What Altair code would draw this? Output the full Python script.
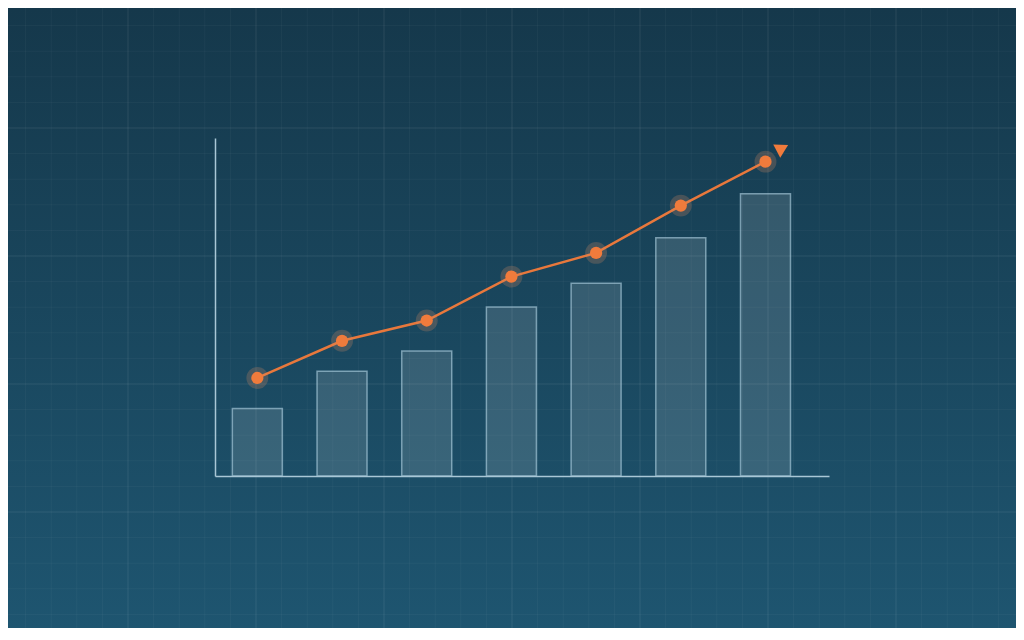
import altair as alt
import pandas as pd
import numpy as np

# ---- data ----
steps = [1, 2, 3, 4, 5, 6, 7]
bar_values = [20, 31, 37, 50, 57, 70.5, 83.5]
line_values = [29, 40, 46, 59, 66, 80, 93]
arrow_step = [7.2]
arrow_value = [97]

# ---- layout ----
W, H = 614, 338
PAD = {"left": 207, "top": 130, "right": 187, "bottom": 152}
ORIGIN_X, ORIGIN_Y = 215, 138   # screen position of the plot origin (top-left)
GRID = 25.6                      # decorative background grid spacing (screen px)

df = pd.DataFrame({"step": steps, "bar": bar_values, "line": line_values})
arrow_df = pd.DataFrame({"step": arrow_step, "value": arrow_value})

xscale = alt.Scale(domain=[0.5, 7.75], nice=False, zero=False, padding=0)
yscale = alt.Scale(domain=[0, 100], nice=False, padding=0)

# decorative background grid (screen-aligned)
kx = np.arange(0, 41)
ky = np.arange(0, 26)
vgrid = pd.DataFrame({"px": kx * GRID - ORIGIN_X, "major": kx % 5 == 0})
hgrid = pd.DataFrame({"py": ky * GRID - ORIGIN_Y, "major": ky % 5 == 0})

bg = alt.Chart(pd.DataFrame({"a": [0]})).mark_rect(
    fill=alt.Gradient(
        gradient="linear",
        stops=[alt.GradientStop(color="#15384b", offset=0),
               alt.GradientStop(color="#1e5570", offset=1)],
        x1=0, x2=0, y1=0, y2=1,
    ),
    strokeWidth=0,
).encode(
    x=alt.value(-PAD["left"]), x2=alt.value(W + PAD["right"]),
    y=alt.value(-PAD["top"]), y2=alt.value(H + PAD["bottom"]),
)

vlines = alt.Chart(vgrid).mark_rule(color="#ffffff", strokeWidth=1).encode(
    x=alt.X("px:Q", scale=None, axis=None),
    y=alt.value(-PAD["top"]), y2=alt.value(H + PAD["bottom"]),
    strokeOpacity=alt.condition("datum.major", alt.value(0.09), alt.value(0.035)),
)
hlines = alt.Chart(hgrid).mark_rule(color="#ffffff", strokeWidth=1).encode(
    y=alt.Y("py:Q", scale=None, axis=None),
    x=alt.value(-PAD["left"]), x2=alt.value(W + PAD["right"]),
    strokeOpacity=alt.condition("datum.major", alt.value(0.09), alt.value(0.035)),
)

axis_x = alt.Axis(domain=True, ticks=False, labels=False, grid=False, title=None,
                  domainColor="#a9c7d6", domainWidth=1.5, zindex=1)
axis_y = alt.Axis(domain=True, ticks=False, labels=False, grid=False, title=None,
                  domainColor="#a9c7d6", domainWidth=1.5, zindex=1)

bars = alt.Chart(df).mark_bar(
    size=50, fill="#ffffff", fillOpacity=0.13,
    stroke="#b4d6e6", strokeOpacity=0.6, strokeWidth=1.5,
).encode(
    x=alt.X("step:Q", scale=xscale, axis=axis_x),
    y=alt.Y("bar:Q", scale=yscale, axis=axis_y),
)

line = alt.Chart(df).mark_line(color="#e8783c", strokeWidth=2.5).encode(
    x=alt.X("step:Q", scale=xscale),
    y=alt.Y("line:Q", scale=yscale),
)

halo = alt.Chart(df).mark_circle(size=480, color="#d98a63", opacity=0.25).encode(
    x=alt.X("step:Q", scale=xscale),
    y=alt.Y("line:Q", scale=yscale),
)

dots = alt.Chart(df).mark_circle(size=150, color="#f07b3c", opacity=1).encode(
    x=alt.X("step:Q", scale=xscale),
    y=alt.Y("line:Q", scale=yscale),
)

arrow = alt.Chart(arrow_df).mark_point(
    shape="triangle-right", size=220, filled=True, color="#f07b3c",
    opacity=1, angle=332,
).encode(
    x=alt.X("step:Q", scale=xscale),
    y=alt.Y("value:Q", scale=yscale),
)

chart = alt.layer(bg, vlines, hlines, bars, line, halo, dots, arrow).properties(
    width=W, height=H, padding=PAD,
    autosize=alt.AutoSizeParams(type="none"),
    background="#15384b",
).configure_view(stroke=None)

chart.save("out.html", embed_options={"renderer": "svg", "actions": False})
